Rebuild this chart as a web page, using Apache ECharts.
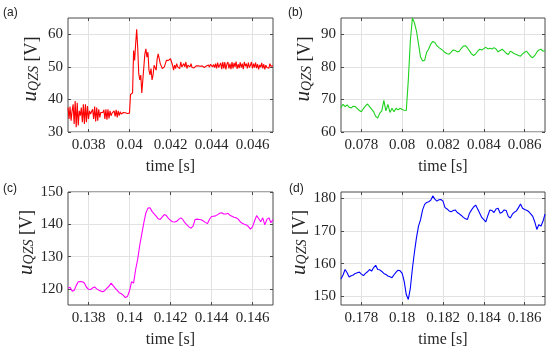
<!DOCTYPE html>
<html><head><meta charset="utf-8">
<script src="https://cdn.jsdelivr.net/npm/echarts@6/dist/echarts.min.js"></script>
<style>html,body{margin:0;padding:0;background:#fff}#c{width:550px;height:352px}</style>
</head><body><div id="c"></div>
<script>
// ---- data ----
const panelLabels = ['(a)', '(b)', '(c)', '(d)'];
const xTicksA = [0.038, 0.040, 0.042, 0.044, 0.046];
const xTicksB = [0.078, 0.080, 0.082, 0.084, 0.086];
const xTicksC = [0.138, 0.140, 0.142, 0.144, 0.146];
const xTicksD = [0.178, 0.180, 0.182, 0.184, 0.186];
const yTicksA = [30, 40, 50, 60];
const yTicksB = [60, 70, 80, 90];
const yTicksC = [120, 130, 140, 150];
const yTicksD = [150, 160, 170, 180];
// sample start / step (s)
const startA = 0.037, stepA = 0.00005;
const startB = 0.077, stepB = 0.0001;
const startC = 0.137, stepC = 0.0001;
const startD = 0.177, stepD = 0.0001;
const uA = [
37.5,34,37.8,33.5,36.5,38.5,32.5,39.5,31.5,39,32,36.5,35,37.5,33,38.5,32.5,38.5,33,38,
34,36.5,35.5,36,37,34,37.8,33.2,37.5,33.5,37,34.5,36,35.5,36,36.8,34,37,33.8,37,
34.2,36.5,35,35.8,35.5,36.5,34.8,36.8,34.5,36.5,35,36.2,35.5,35.8,36,35.8,35.9,35.8,35.7,35.8,
35.8,41.5,42,42,55,52,57,61.5,56,48,46,47.5,42,46,50,54,55.5,53,54.5,49,
47.5,49.5,46,47.5,50.5,51,49,52.5,54,52.5,51,51.5,49.5,49,50,51,52,52.5,52,51.5,
52.5,51.5,50.5,49,50.5,49.5,51,50,50.5,49.5,51.5,50,49.5,51,50,51.5,49.5,50.5,51,50,
51,49.8,49.8,49.7,49.8,50.3,50.5,50.3,50,50.2,50.5,50.3,50,49.8,49.8,50.3,49.8,50.6,49.9,50.8,
50.2,50,50.7,49.8,51,49.5,51.3,49.8,50.5,51.2,49.3,51.5,49.5,51.5,49.2,50.8,51.5,49.5,51,49.3,
51.5,49.5,51.2,50,51.6,49.4,50.8,49.6,51.4,49.8,51,49.3,51.5,50.2,51,49.5,51.3,49.8,50.5,51.5,
49.5,51,49.8,51.3,49.6,50.8,49.2,50.6,49.9,51.2,49.5,50.8,49.2,50.5,49.8,50.3,49.6,51,50.2,50.6,
50.3
];
const uB = [
67.5,68.5,67.8,68.3,67.6,67.4,67.9,67.8,67.2,66.6,66.2,67.2,68,68.6,67.8,67,66.2,64.8,64.3,65.8,
66.5,69.7,66.5,68.5,66,67.3,66.2,67.3,66.8,67.3,66.9,66.7,66.6,76,88,95,93.5,91,87,83,
81.8,82,84.5,85.5,87,87.8,87.5,86.5,85.9,85.5,85,84.4,84,83.9,84.5,85.2,85,84.6,84.8,85.7,
86.4,86.5,85.8,84.9,84,83.5,84,84.8,85.4,85.2,85.6,86,85.5,85.7,85.5,85.9,85.5,84.6,85,85.4,
84.8,84.2,83.8,84.8,84.5,84,83.8,83.5,83.3,84,84.5,84.8,84,83.2,82.8,83.5,84.5,85.2,85.4,84.8,
85
];
const uC = [
120.2,120.5,119.3,119.5,121,122.2,122.3,122.2,121.8,120.5,119.9,119.8,120.3,120.6,120,119.6,119.3,119.1,119.5,120.2,
120.8,121.8,121,120.2,119.5,118.8,118.5,118,117.3,117.6,119.4,122.2,121.8,126,129.2,133.5,137,140.5,143.5,145,
145.1,144,143.2,142.5,141.7,141.5,142.3,143,142.7,141.8,141.2,140.8,140.7,140.9,141.5,142,141.5,140.5,139.8,139.2,
138.8,139.4,141.5,141.6,141.5,141.4,141,140.6,140.2,141.5,142.4,142.5,142.6,143,143.4,143.6,143.2,143.2,143.4,142.8,
142.5,142.2,142,141.6,140.8,140.3,140,139.8,139.3,138.5,139.2,141,142.7,141.8,140.8,142,139.8,141.5,142,140.5,
141.5
];
const uD = [
155.3,156.5,158.2,157.2,155.9,156.3,156.5,157,157.2,157.4,156.8,156.3,157,157.5,158.2,157.7,158.8,159.5,158.2,158.1,
157.6,157,156.7,156.2,156,155.7,156.6,157.4,158,157.8,157,154.5,150.5,149,152.5,158.5,163.5,168,171.5,173.5,
176.5,178.2,178.8,179,179.5,180.8,179.8,179.2,179.6,179.7,179.2,177.2,176.8,176.2,175.9,176.3,176.5,175.7,175.3,174.8,
174.2,173.8,173.6,175.5,176.5,177.4,178,176.8,175.5,174.2,173.5,172.8,174.8,176.5,176.3,175.7,176.8,177,175.5,175.8,
176.5,176.3,174.5,174,175.2,175.8,176.2,177.2,178.3,177,176.6,176.4,176,175.3,174.5,172.8,170.5,172,171.5,173,
175.2
];
const colors = ['#ff0000', '#1ed21e', '#ff00ff', '#0000ff'];

// ---- layout ----
const grids = [
  {left: 68, top: 18, width: 205, height: 114},
  {left: 341, top: 18, width: 204, height: 114},
  {left: 68, top: 192, width: 205, height: 113},
  {left: 341, top: 192, width: 204, height: 113}
];
const xRanges = [[0.037, 0.047], [0.077, 0.087], [0.137, 0.147], [0.177, 0.187]];
const yRanges = [[30, 65], [60, 95], [115, 150], [147.3, 182]];
const xTicks = [xTicksA, xTicksB, xTicksC, xTicksD];
const yTicks = [yTicksA, yTicksB, yTicksC, yTicksD];
const series = [[uA, startA, stepA], [uB, startB, stepB], [uC, startC, stepC], [uD, startD, stepD]];
const labelPos = [[3, 7], [288, 7], [3, 183], [289, 183]];

const txt = '#262626', frame = '#4a4a4a', gridC = '#e2e2e2';
const serif = '"Liberation Serif", "Times New Roman", serif';
const fmtX = v => String(parseFloat(v.toFixed(4)));

const option = {
  animation: false,
  backgroundColor: '#fff',
  title: panelLabels.map((t, i) => ({
    text: t, left: labelPos[i][0], top: labelPos[i][1], padding: 0,
    textStyle: {fontSize: 12, fontWeight: 'normal', color: '#222', fontFamily: '"Liberation Sans", Arial, sans-serif'}
  })),
  grid: grids.map(g => Object.assign({show: true, borderColor: frame, borderWidth: 1, backgroundColor: 'transparent', containLabel: false}, g)),
  xAxis: [], yAxis: [], series: []
};

for (let i = 0; i < 4; i++) {
  option.xAxis.push({
    type: 'value', gridIndex: i, min: xRanges[i][0], max: xRanges[i][1],
    name: 'time [s]', nameLocation: 'middle', nameGap: 27,
    nameTextStyle: {fontFamily: serif, fontSize: 16, color: txt},
    axisLine: {show: false},
    axisTick: {show: true, inside: true, length: 3, customValues: xTicks[i], lineStyle: {color: frame}},
    axisLabel: {customValues: xTicks[i], formatter: fmtX, fontFamily: serif, fontSize: 15, color: txt, margin: 6},
    splitLine: {show: true, lineStyle: {color: gridC, width: 1}}
  });
  option.xAxis.push({
    type: 'value', gridIndex: i, min: xRanges[i][0], max: xRanges[i][1], position: 'top',
    axisLine: {show: false},
    axisTick: {show: true, inside: true, length: 3, customValues: xTicks[i], lineStyle: {color: frame}},
    axisLabel: {show: false}, splitLine: {show: false}
  });
  option.yAxis.push({
    type: 'value', gridIndex: i, min: yRanges[i][0], max: yRanges[i][1],
    name: '{p|}{u|u}{s|QZS}{n| [V]}', nameLocation: 'middle', nameRotate: 90, nameGap: 27,
    nameTextStyle: {
      color: txt, fontFamily: serif,
      rich: {
        p: {width: 12, lineHeight: 28, verticalAlign: 'bottom'},
        u: {fontSize: 21, fontStyle: 'italic', fontFamily: serif, color: txt, lineHeight: 28, verticalAlign: 'bottom'},
        s: {fontSize: 14, fontStyle: 'italic', fontFamily: serif, color: txt, lineHeight: 14, verticalAlign: 'bottom'},
        n: {fontSize: 18, fontFamily: serif, color: txt, lineHeight: 28, verticalAlign: 'bottom'}
      }
    },
    axisLine: {show: false},
    axisTick: {show: true, inside: true, length: 3, customValues: yTicks[i], lineStyle: {color: frame}},
    axisLabel: {customValues: yTicks[i], fontFamily: serif, fontSize: 15, color: txt, margin: 5},
    splitLine: {show: true, lineStyle: {color: gridC, width: 1}}
  });
  option.yAxis.push({
    type: 'value', gridIndex: i, min: yRanges[i][0], max: yRanges[i][1], position: 'right',
    axisLine: {show: false},
    axisTick: {show: true, inside: true, length: 3, customValues: yTicks[i], lineStyle: {color: frame}},
    axisLabel: {show: false}, splitLine: {show: false}
  });
  const [vals, t0, dt] = series[i];
  option.series.push({
    type: 'line', xAxisIndex: 2 * i, yAxisIndex: 2 * i, showSymbol: false, symbol: 'none',
    data: vals.map((v, k) => [t0 + k * dt, v]),
    lineStyle: {color: colors[i], width: 1.1}, itemStyle: {color: colors[i]},
    clip: true, silent: true, sampling: null
  });
}

const chart = echarts.init(document.getElementById('c'), null, {renderer: 'canvas'});
chart.setOption(option);
</script>
</body></html>
